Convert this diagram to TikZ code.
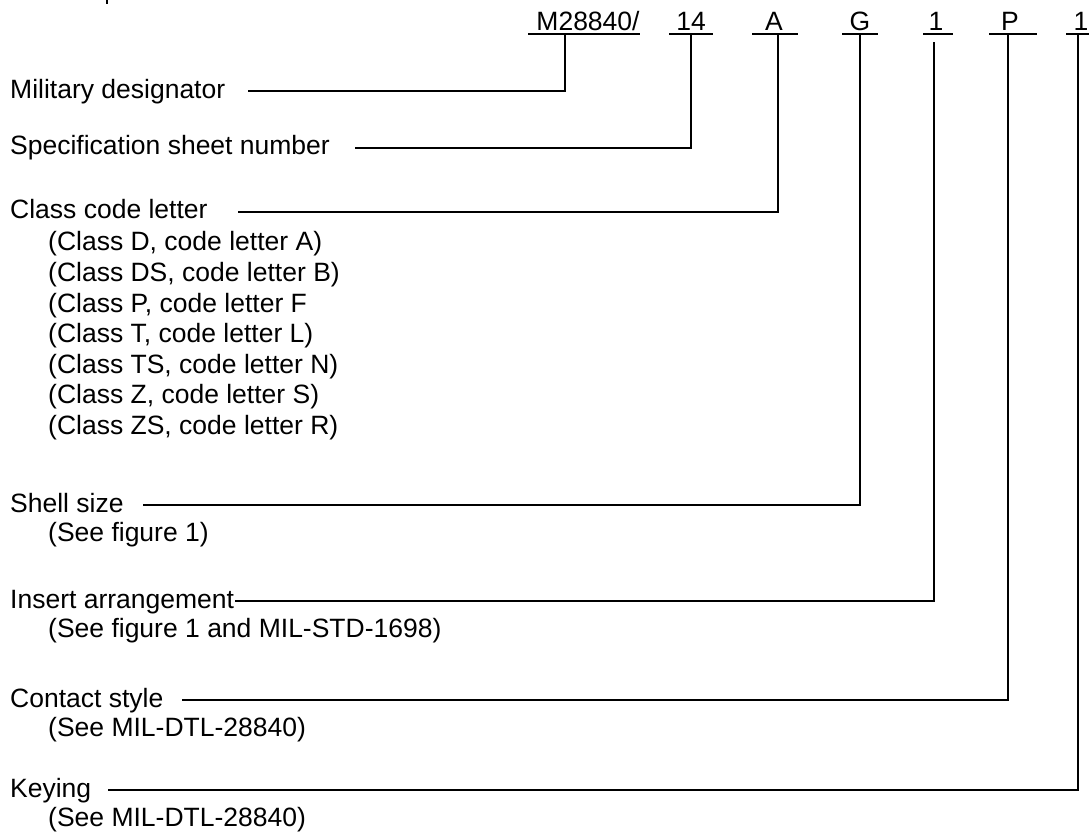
\documentclass[tikz,border=0pt]{standalone}
\usepackage{fontspec}
\setmainfont{Liberation Sans}
\begin{document}
\begin{tikzpicture}[x=1pt,y=-1pt,
  txt/.style={inner sep=0pt, font=\fontsize{26.5}{30}\selectfont},
  lab/.style={txt, anchor=base west},
  code/.style={txt, anchor=base},
  conn/.style={line width=1.7pt, line join=miter},
  uline/.style={line width=1.7pt}]
\useasboundingbox (0,0) rectangle (1089,834);
% clipped mark at top edge
\coordinate (m1) at (107,0);
\coordinate (m2) at (107,4);
\draw[line width=1.8pt] (m1) -- (m2);

% code letters
\node[code] (c1) at (588,31) {M28840/};
\node[code] (c2) at (691,31) {14};
\node[code] (c3) at (774,31) {A};
\node[code] (c4) at (860,31) {G};
\node[code] (c5) at (936,31) {1};
\node[code] (c6) at (1010,31) {P};
\node[code] (c7) at (1081,31) {1};

% underlines
\coordinate (a1) at (528,34); \coordinate (b1) at (640,34);
\coordinate (a2) at (669,34); \coordinate (b2) at (713,34);
\coordinate (a3) at (752,34); \coordinate (b3) at (798,34);
\coordinate (a4) at (842,34); \coordinate (b4) at (878,34);
\coordinate (a5) at (923,34); \coordinate (b5) at (953,34);
\coordinate (a6) at (989,34); \coordinate (b6) at (1037,34);
\coordinate (a7) at (1066,34); \coordinate (b7) at (1092,34);
\foreach \i in {1,...,7} {\draw[uline] (a\i) -- (b\i);}

% labels
\node[lab] (l1) at (10,99) {Military designator};
\node[lab] (l2) at (10,155) {Specification sheet number};
\node[lab] (l3) at (10,219) {Class code letter};
\node[lab] (s31) at (48,251) {(Class D, code letter A)};
\node[lab] (s32) at (48,281.5) {(Class DS, code letter B)};
\node[lab] (s33) at (48,312) {(Class P, code letter F};
\node[lab] (s34) at (48,342.5) {(Class T, code letter L)};
\node[lab] (s35) at (48,373) {(Class TS, code letter N)};
\node[lab] (s36) at (48,403.5) {(Class Z, code letter S)};
\node[lab] (s37) at (48,434) {(Class ZS, code letter R)};
\node[lab] (l4) at (10,512) {Shell size};
\node[lab] (s4) at (48,541) {(See figure 1)};
\node[lab] (l5) at (10,608) {Insert arrangement};
\node[lab] (s5) at (48,637) {(See figure 1 and MIL-STD-1698)};
\node[lab] (l6) at (10,707) {Contact style};
\node[lab] (s6) at (48,736) {(See MIL-DTL-28840)};
\node[lab] (l7) at (10,797) {Keying};
\node[lab] (s7) at (48,826) {(See MIL-DTL-28840)};

% leader start points, corners and tops
\coordinate (p1) at (248,91);  \coordinate (k1) at (565,91);  \coordinate (t1) at (565,34);
\coordinate (p2) at (355,148); \coordinate (k2) at (691,148); \coordinate (t2) at (691,34);
\coordinate (p3) at (238,212); \coordinate (k3) at (778,212); \coordinate (t3) at (778,34);
\coordinate (p4) at (143,505); \coordinate (k4) at (860,505); \coordinate (t4) at (860,34);
\coordinate (p5) at (235,601); \coordinate (k5) at (934,601); \coordinate (t5) at (934,42);
\coordinate (p6) at (182,700); \coordinate (k6) at (1008,700); \coordinate (t6) at (1008,34);
\coordinate (p7) at (108,790); \coordinate (k7) at (1078,790); \coordinate (t7) at (1078,34);
\foreach \i in {1,...,7} {\draw[conn] (p\i) -- (k\i) -- (t\i);}
\end{tikzpicture}
\end{document}
